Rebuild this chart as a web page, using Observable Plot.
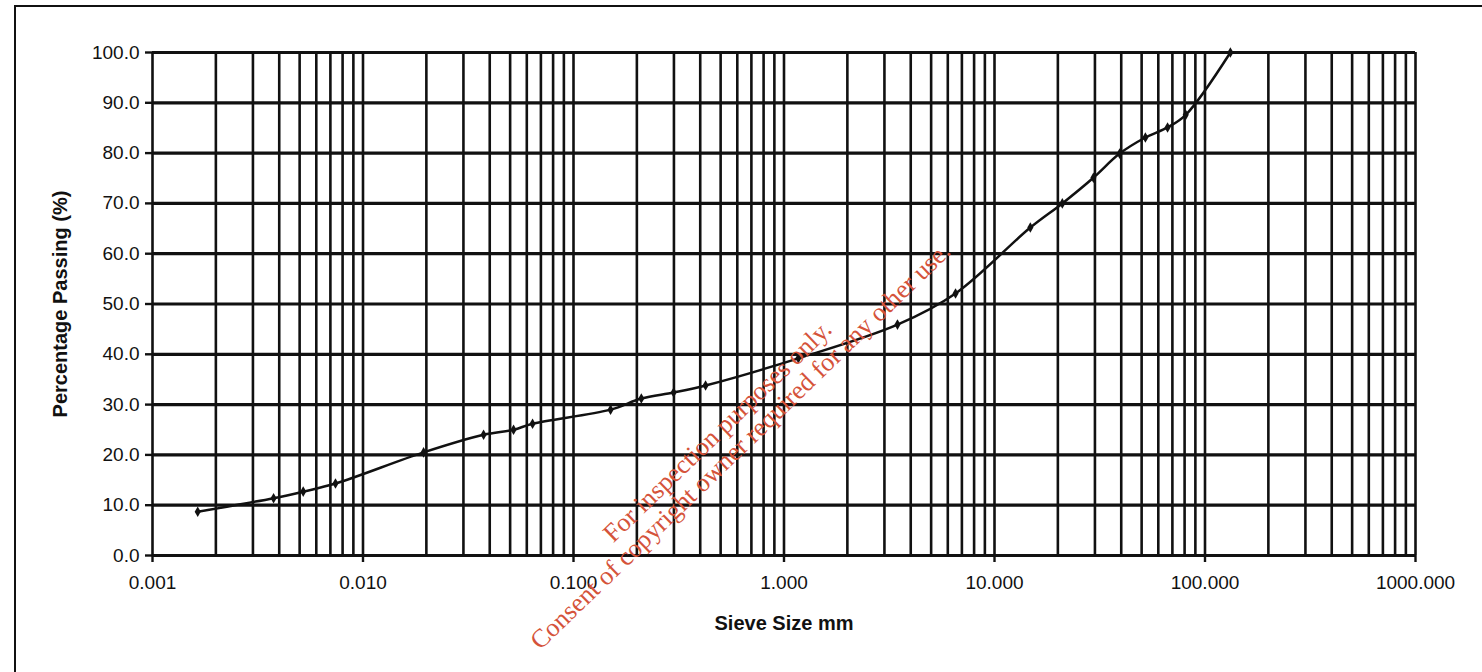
<!DOCTYPE html>
<html>
<head>
<meta charset="utf-8">
<script src="https://cdn.jsdelivr.net/npm/d3@7"></script>
<script src="https://cdn.jsdelivr.net/npm/@observablehq/plot@0.6"></script>
<style>
  html, body { margin: 0; padding: 0; background: #fff; }
  #wrap { position: relative; width: 1482px; height: 672px; overflow: hidden; }
  #frame { position: absolute; left: 14px; top: 5px; width: 1480px; height: 700px;
           border-left: 2px solid #111; border-top: 2px solid #111; pointer-events: none; }
</style>
</head>
<body>
<div id="wrap"><div id="frame"></div></div>
<script>
// Sieve size (mm) and percentage passing
const sieveSize = [0.00164, 0.00376, 0.0052, 0.0074, 0.0194, 0.0374, 0.0519, 0.0639,
                   0.150, 0.210, 0.299, 0.424, 1.17, 3.46, 6.53, 14.8, 21.0, 29.5,
                   39.3, 52.1, 66.4, 81.0, 132];
const percentPassing = [8.7, 11.4, 12.7, 14.3, 20.5, 24.0, 25.0, 26.2,
                        29.0, 31.2, 32.4, 33.8, 39.2, 45.9, 52.1, 65.2, 70.0, 75.1,
                        79.9, 83.1, 85.1, 87.6, 100];

// Axis ticks
const xDecades = [0.001, 0.01, 0.1, 1, 10, 100, 1000];
const xTickLabels = ["0.001", "0.010", "0.100", "1.000", "10.000", "100.000", "1000.000"];
const yTicks = [0, 10, 20, 30, 40, 50, 60, 70, 80, 90, 100];
const yTickLabels = ["0.0", "10.0", "20.0", "30.0", "40.0", "50.0", "60.0", "70.0", "80.0", "90.0", "100.0"];
const multipliers = [1, 2, 3, 4, 5, 6, 7, 8, 9];

// Watermark lines (annotation)
const watermarkText = ["For inspection purposes only.", "Consent of copyright owner required for any other use."];
const watermarkX = [0.483, 0.62];
const watermarkY = [24.7, 21.8];

const data = sieveSize.map((s, i) => ({size: s, pass: percentPassing[i]}));
const minorX = xDecades.slice(0, -1).flatMap(d => multipliers.map(m => +(d * m).toPrecision(6))).concat([1000]);
const watermark = watermarkText.map((t, i) => ({t, x: watermarkX[i], y: watermarkY[i]}));

const chart = Plot.plot({
  width: 1482,
  height: 672,
  marginLeft: 152,
  marginRight: 67,
  marginTop: 52,
  marginBottom: 117,
  style: {fontFamily: "'Liberation Sans', Arial, sans-serif", background: "transparent", color: "#111"},
  x: {type: "log", domain: [0.001, 1000], label: null},
  y: {domain: [0, 100], label: null},
  marks: [
    Plot.ruleX(minorX, {stroke: "#111", strokeWidth: 2.6}),
    Plot.ruleY(yTicks, {stroke: "#111", strokeWidth: 3.2}),
    Plot.axisX(xDecades, {
      tickSize: 7, tickPadding: 13, fontSize: 19, stroke: "#111", strokeWidth: 2.4,
      tickFormat: d => xTickLabels[xDecades.indexOf(d)]
    }),
    Plot.axisY(yTicks, {
      tickSize: 7, tickPadding: 6, fontSize: 19, stroke: "#111", strokeWidth: 2.4,
      tickFormat: d => yTickLabels[yTicks.indexOf(d)]
    }),
    Plot.text(["Sieve Size mm"], {frameAnchor: "bottom", dy: 68, lineAnchor: "middle", textAnchor: "middle",
      fontSize: 20, fontWeight: "bold", fill: "#111"}),
    Plot.text(["Percentage Passing (%)"], {frameAnchor: "left", dx: -92, rotate: -90, lineAnchor: "middle",
      textAnchor: "middle", fontSize: 20, fontWeight: "bold", fill: "#111"}),
    Plot.line(data, {x: "size", y: "pass", stroke: "#111", strokeWidth: 2.5, curve: "catmull-rom"}),
    Plot.dot(data, {x: "size", y: "pass", symbol: "diamond", r: 3.2, fill: "#111", stroke: "none"}),
    Plot.text(watermark, {x: "x", y: "y", text: "t", rotate: -44, fontSize: 26,
      fontFamily: "'Liberation Serif', 'Times New Roman', serif", fill: "#d5533a"})
  ]
});
document.getElementById("wrap").appendChild(chart);
chart.style.position = "absolute";
chart.style.left = "0";
chart.style.top = "0";
</script>
</body>
</html>
